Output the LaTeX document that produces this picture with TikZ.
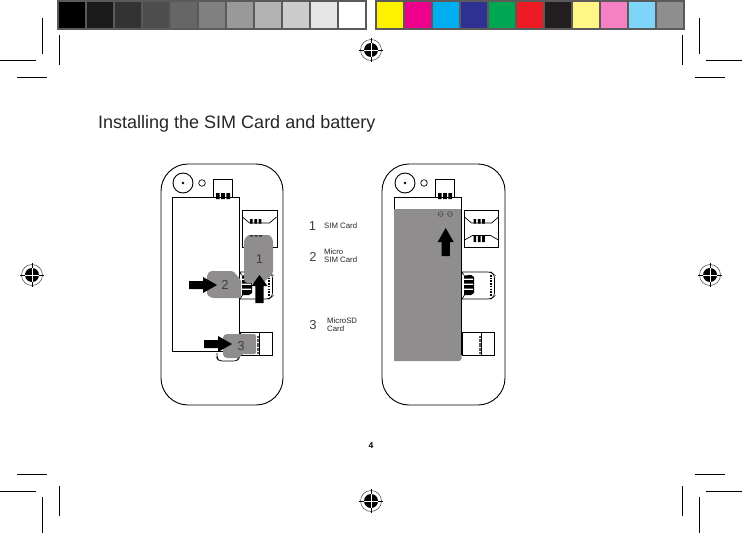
\documentclass[tikz,border=0pt]{standalone}
\usepackage{fontspec}
\setmainfont{Liberation Sans}
\definecolor{simgray}{HTML}{8F8D8E}
\definecolor{stripgray}{HTML}{5A5A5A}
\tikzset{
  x=1pt,y=-1pt,
  outline/.style={draw=black,line width=0.9pt},
  thin outline/.style={draw=black,line width=0.7pt},
  crop/.style={draw=black,line width=0.8pt},
  card/.style={fill=simgray,draw=none},
  bigarrow/.style={fill=black,draw=none},
  lab/.style={inner sep=0pt,anchor=west,font=\fontsize{7.8}{7.6}\selectfont,align=left,text=black!85},
  num/.style={inner sep=0pt,anchor=center,font=\fontsize{13}{14}\selectfont,text=black!75},
}
\newcommand{\regmark}[2]{%
  \begin{scope}[shift={(#1,#2)}]
    \draw[line width=0.5pt,black!75] (0,0) circle (10.5);
    \fill[black] (0,0) circle (7);
    \draw[white,line width=0.7pt] (-7,0)--(7,0) (0,-7)--(0,7);
    \draw[black,line width=0.7pt] (-12,0)--(-7,0) (7,0)--(12,0) (0,-12)--(0,-7) (0,7)--(0,12);
  \end{scope}}
\newcommand{\uparrowshape}[3]{% tip x,y, head length
  \fill[bigarrow] (#1,#2)--++(8,#3)--++(-3.8,0)--++(0,28-#3)--++(-8.4,0)--++(0,-28+#3)--++(-3.8,0)--cycle;}
\newcommand{\rightarrowshape}[2]{% tip x,y
  \fill[bigarrow] (#1,#2)--++(-14,-8)--++(0,4)--++(-14,0)--++(0,8)--++(14,0)--++(0,4)--cycle;}
\newcommand{\contacts}[4]{% left x, y, width step, height
  \fill[black] (#1,#2) rectangle ++(#3-1.6,#4) (#1+#3,#2) rectangle ++(#3-1.6,#4) (#1+2*#3,#2) rectangle ++(#3-1.6,#4);}
\newcommand{\slotdown}[2]{% left x, y of ends
  \draw[thin outline] (#1,#2)--(#1+7,#2+6)--(#1+27,#2+6)--(#1+34,#2);}
\newcommand{\slotup}[2]{%
  \draw[thin outline] (#1,#2)--(#1+8,#2-4.5)--(#1+26,#2-4.5)--(#1+34,#2);}
\newcommand{\microslot}[1]{% left x of slot
  \draw[thin outline,rounded corners=3pt] (#1+1,272)--(#1+30,272)--(#1+33.5,275)--(#1+33.5,296)--(#1+30,299)--(#1+1,299);
  \draw[line width=2pt,dash pattern=on 1.6pt off 1.1pt] (#1+29.5,275)--(#1+29.5,296);
  \fill[black] (#1+3,275.5)--(#1+10,275)--(#1+13,277)--(#1+13,293)--(#1+10,295)--(#1+3,295)--cycle;
  \fill[white] (#1+3,278.6) rectangle (#1+12,279.8) (#1+3,283.6) rectangle (#1+12,284.8) (#1+3,288.6) rectangle (#1+12,289.8);
  \draw[thin outline] (#1+1,272)--(#1+2.5,275) (#1+1,299)--(#1+3.5,295);}
\newcommand{\sdslot}[1]{% left x
  \draw[outline] (#1,332) rectangle (#1+32,355.7);
  \draw[thin outline] (#1+19,332)--(#1+19,355.7);
  \draw[line width=2pt,black!65,dash pattern=on 0.6pt off 0.7pt] (#1+18,336)--(#1+18,353);}
\begin{document}
\begin{tikzpicture}
\useasboundingbox (0,0) rectangle (742,546);
\fill[white] (0,0) rectangle (742,546);
% colour strip
\fill[stripgray] (57,0) rectangle (367,30);
\fill[stripgray] (375,0) rectangle (685,30);
\foreach \x/\c in {59/000000,87/1A1A1A,115/333333,143/4D4D4D,171/666666,199/808080,227/999999,255/B3B3B3,283/CCCCCC,311/E6E6E6,339/FFFFFF}{
  \definecolor{sw}{HTML}{\c}\fill[sw] (\x,2) rectangle ++(26.3,26);}
\foreach \x/\c in {377/FFF200,405/EC008C,433/00AEEF,461/2E3192,489/00A651,517/ED1C24,545/231F20,573/FFF685,601/F680C4,629/7FD4F9,657/8F8D8E}{
  \definecolor{sw}{HTML}{\c}\fill[sw] (\x,2) rectangle ++(26.3,26);}
% crop marks
\draw[crop] (42.5,18)--(42.5,54) (59.5,35)--(59.5,65) (0,60.5)--(36,60.5) (17,77.5)--(47,77.5);
\draw[crop] (699.5,18)--(699.5,54) (682.5,35)--(682.5,65) (706,60.5)--(742,60.5) (695,77.5)--(725,77.5);
\draw[crop] (42.5,497)--(42.5,533) (59.5,486)--(59.5,516) (0,491.5)--(36,491.5) (17,474.5)--(47,474.5);
\draw[crop] (699.5,497)--(699.5,533) (682.5,486)--(682.5,516) (706,491.5)--(742,491.5) (695,474.5)--(725,474.5);
% registration marks
\regmark{371}{50}\regmark{371}{501}\regmark{32}{275}\regmark{710}{275}
% title
\node[inner sep=0pt,anchor=west,font=\fontsize{18}{19}\selectfont,text=black!85] (title) at (98,124) {Installing the SIM Card and battery};
\node[inner sep=0pt,font=\bfseries\fontsize{8.5}{9}\selectfont] (page) at (371,446) {4};
% LEFT PHONE
\draw[outline,rounded corners=27pt] (161,164) rectangle (283,405);
\draw[outline] (183,183) circle (10);
\fill (183,183) circle (1.3);
\draw[thin outline] (202,183) circle (3.3);
\draw[outline] (213,179) rectangle (232,197);
\draw[outline] (172,197) rectangle (239.5,351);
\contacts{216}{193}{5.2}{6}
% sim slot
\draw[outline] (242.5,210.7) rectangle (277,247);
\slotdown{242.5}{217}
\contacts{250}{219}{4.3}{4.5}
% micro sim slot
\microslot{239}
% sd slot
\sdslot{240}
\draw[thin outline,rounded corners=3pt] (217,353)--(217,358)--(219,361)--(237,361)--(239,358)--(239,355);
% SIM card 1
\fill[card,rounded corners=1.5pt] (244,240)--(248,235)--(270,235)--(273,240)--(273,273)--(263,283)--(246,283)--(244,281)--cycle;
\fill[black] (250,235.3) rectangle ++(3,1) (254.5,235.3) rectangle ++(3,1) (259,235.3) rectangle ++(3,1);
\node[num] (n1inner) at (259.5,259.5) {1};
% micro sim 2
\fill[card,rounded corners=1.5pt] (207,275)--(210,271)--(233,271)--(241,280)--(241,298)--(212,298)--(207,295)--cycle;
\node[num] (n2inner) at (225,285) {2};
% sd 3
\fill[card,rounded corners=1.5pt] (223,336)--(226,334)--(256,334)--(256,354)--(242,354)--(239,358)--(226,358)--(223,356)--cycle;
\node[num] (n3inner) at (241,346) {3};
% arrows
\rightarrowshape{217}{285}
\rightarrowshape{232}{344}
\uparrowshape{259.5}{275}{11}
% RIGHT PHONE
\draw[outline,rounded corners=27pt] (382,164) rectangle (505,405);
\draw[outline] (405,183) circle (10);
\fill (405,183) circle (1.3);
\draw[thin outline] (424,183) circle (3.3);
\draw[outline] (435,179) rectangle (454,197);
\draw[outline] (394,197) rectangle (461.7,209);
\contacts{438}{193}{5.2}{6}
% sim slot (double)
\draw[outline] (464,210.7) rectangle (498.7,247);
\slotdown{464.5}{217}
\contacts{473.5}{219}{4.3}{4.5}
\slotup{464.5}{240}
\contacts{473.5}{236}{4.3}{6}
% micro sim slot
\microslot{461}
% sd slot
\sdslot{462}
% battery
\fill[card] (394,209)--(461.7,209)--(461.7,358) to[out=90,in=0,looseness=0] (461.7,358) .. controls (461.7,361) and (460,361) .. (457,361)--(394,361)--cycle;
\draw[line width=0.9pt] (461.7,209)--(461.7,355);
\draw[line width=0.5pt,black!70] (440.7,214) circle (2.5) (438.7,214)--(442.7,214);
\draw[line width=0.5pt,black!70] (450,214) circle (2.5) (448,214)--(452,214);
\uparrowshape{445.7}{228}{14}
% legend
\node[num] (n1) at (312.5,226) {1};
\node[lab] (l1) at (324,226) {SIM Card};
\node[num] (n2) at (313,257) {2};
\node[lab] (l2) at (324,256) {Micro\\SIM Card};
\node[num] (n3) at (313,325) {3};
\node[lab] (l3) at (327,324.5) {MicroSD\\Card};
\end{tikzpicture}
\end{document}
